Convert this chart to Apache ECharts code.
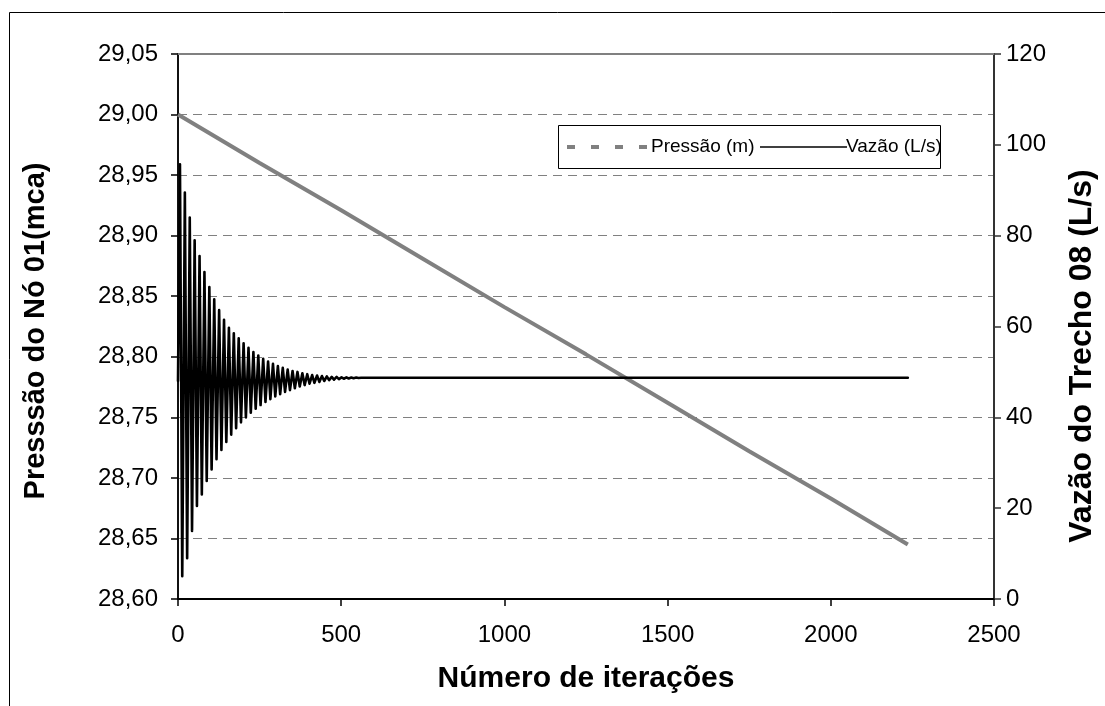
<!DOCTYPE html>
<html><head><meta charset="utf-8">
<script src="https://cdn.jsdelivr.net/npm/echarts@6/dist/echarts.min.js"></script>
<style>html,body{margin:0;padding:0;background:#fff}#c{width:1105px;height:706px}</style>
</head><body><div id="c"></div>
<script>
// ---- data ----
const pressureIter  = [0, 250, 500, 750, 1000, 1250, 1500, 1750, 2000, 2236];
const pressureValue = [29.000, 28.960, 28.921, 28.881, 28.841, 28.802, 28.762, 28.722, 28.683, 28.645];

const flowIter = [0, 6, 13, 21, 28, 36, 43, 51, 58, 66, 73, 81, 88, 96, 103, 111, 118, 126, 133, 141,
  148, 156, 163, 171, 178, 186, 193, 201, 208, 216, 223, 231, 238, 246, 253, 261, 268, 276, 283, 291,
  298, 306, 313, 321, 328, 336, 343, 351, 358, 366, 373, 381, 388, 396, 403, 411, 418, 426, 433, 441,
  448, 456, 463, 471, 478, 486, 493, 501, 508, 516, 523, 531, 538, 546, 553, 561, 600, 2236];
const flowValue = [48, 95.7, 5, 89.5, 9, 84, 15, 79, 20.5, 75.5, 23, 72, 26, 68.7, 28.5, 66, 30.8, 63.6, 32.8, 61.5,
  34.6, 59.7, 36.2, 58.5, 37.6, 57.4, 38.9, 56.3, 40.0, 55.3, 41.0, 54.4, 41.9, 53.6, 42.7, 52.9, 43.4, 52.3, 44.0, 51.8,
  44.6, 51.3, 45.1, 50.9, 45.6, 50.5, 46.0, 50.2, 46.4, 50.0, 46.8, 49.7, 47.1, 49.5, 47.4, 49.3, 47.6, 49.2, 47.8, 49.1,
  48.0, 49.0, 48.2, 48.9, 48.3, 48.9, 48.4, 48.8, 48.5, 48.8, 48.55, 48.75, 48.6, 48.75, 48.65, 48.7, 48.7, 48.7];

const seriesNames = ['Pressão (m)', 'Vazão (L/s)'];
const xTitle = 'Número de iterações';
const yLeftTitle = 'Presssão do Nó 01(mca)';
const yRightTitle = 'Vazão do Trecho 08 (L/s)';
const xRange = [0, 2500, 500];
const yLeftRange = [28.60, 29.05, 0.05];
const yRightRange = [0, 120, 20];

// ---- chart ----
const FONT = '"Liberation Sans", Arial, sans-serif';
const chart = echarts.init(document.getElementById('c'), null, {renderer: 'canvas'});
const pressurePts = pressureIter.map((x, i) => [x, pressureValue[i]]);
const flowPts = flowIter.map((x, i) => [x, flowValue[i]]);

chart.setOption({
  animation: false,
  backgroundColor: '#fff',
  textStyle: {fontFamily: FONT},
  grid: {left: 178, right: 111, top: 54, bottom: 107, containLabel: false},
  legend: {show: false},
  xAxis: [{
    type: 'value', min: xRange[0], max: xRange[1], interval: xRange[2],
    axisLine: {show: true, onZero: false, lineStyle: {color: '#000', width: 2}},
    axisTick: {show: true, length: 7, lineStyle: {color: '#000', width: 1.5}},
    axisLabel: {fontSize: 24, color: '#000', fontFamily: FONT, margin: 24, formatter: v => String(v)},
    splitLine: {show: false}
  }, {
    type: 'value', position: 'top', min: xRange[0], max: xRange[1],
    axisLine: {show: true, onZero: false, lineStyle: {color: '#808080', width: 2}},
    axisTick: {show: false}, axisLabel: {show: false}, splitLine: {show: false}
  }],
  yAxis: [{
    type: 'value', position: 'left', min: yLeftRange[0], max: yLeftRange[1], interval: yLeftRange[2],
    axisLine: {show: true, onZero: false, lineStyle: {color: '#111', width: 2}},
    axisTick: {show: true, length: 7, lineStyle: {color: '#000', width: 1.5}},
    axisLabel: {fontSize: 24, color: '#000', fontFamily: FONT, margin: 20,
      formatter: v => v.toFixed(2).replace('.', ',')},
    splitLine: {show: true, lineStyle: {color: '#808080', width: 1, type: [9, 6]}}
  }, {
    type: 'value', position: 'right', min: yRightRange[0], max: yRightRange[1], interval: yRightRange[2],
    axisLine: {show: true, onZero: false, lineStyle: {color: '#333', width: 2}},
    axisTick: {show: true, length: 7, lineStyle: {color: '#333', width: 1.5}},
    axisLabel: {fontSize: 24, color: '#000', fontFamily: FONT, margin: 12},
    splitLine: {show: false}
  }],
  series: [{
    name: seriesNames[0], type: 'line', xAxisIndex: 0, yAxisIndex: 0,
    data: pressurePts, symbol: 'none', smooth: false,
    lineStyle: {color: '#808080', width: 4}, itemStyle: {color: '#808080'}, z: 2
  }, {
    name: seriesNames[1], type: 'line', xAxisIndex: 0, yAxisIndex: 1,
    data: flowPts, symbol: 'none', smooth: false,
    lineStyle: {color: '#000', width: 2.6, join: 'round', cap: 'round'}, itemStyle: {color: '#000'}, z: 3
  }],
  graphic: [
    {type: 'rect', shape: {x: 9.5, y: 12.5, width: 1200, height: 800}, style: {fill: null, stroke: '#000', lineWidth: 1}, z: -10, silent: true},
    // legend box
    {type: 'rect', shape: {x: 558.5, y: 125.5, width: 382, height: 43}, style: {fill: '#fff', stroke: '#000', lineWidth: 1}, z: 50},
    {type: 'line', shape: {x1: 567, y1: 147, x2: 649, y2: 147}, style: {stroke: '#808080', lineWidth: 4, lineDash: [8, 16]}, z: 51},
    {type: 'text', x: 651, y: 147, z: 51,
      style: {text: seriesNames[0], font: '19px ' + FONT, fill: '#000', textAlign: 'left', textVerticalAlign: 'middle'}},
    {type: 'line', shape: {x1: 760, y1: 147, x2: 847, y2: 147}, style: {stroke: '#000', lineWidth: 1.5}, z: 51},
    {type: 'text', x: 846, y: 147, z: 51,
      style: {text: seriesNames[1], font: '19px ' + FONT, fill: '#000', textAlign: 'left', textVerticalAlign: 'middle'}},
    // axis titles
    {type: 'text', x: 36, y: 331, rotation: Math.PI / 2,
      style: {text: yLeftTitle, font: 'bold 29px ' + FONT, fill: '#000', textAlign: 'center', textVerticalAlign: 'middle'}},
    {type: 'text', x: 1082, y: 356, rotation: Math.PI / 2,
      style: {text: yRightTitle, font: 'bold 32px ' + FONT, fill: '#000', textAlign: 'center', textVerticalAlign: 'middle'}},
    {type: 'text', x: 586, y: 679,
      style: {text: xTitle, font: 'bold 30px ' + FONT, fill: '#000', textAlign: 'center', textVerticalAlign: 'middle'}}
  ]
});
</script>
</body></html>
